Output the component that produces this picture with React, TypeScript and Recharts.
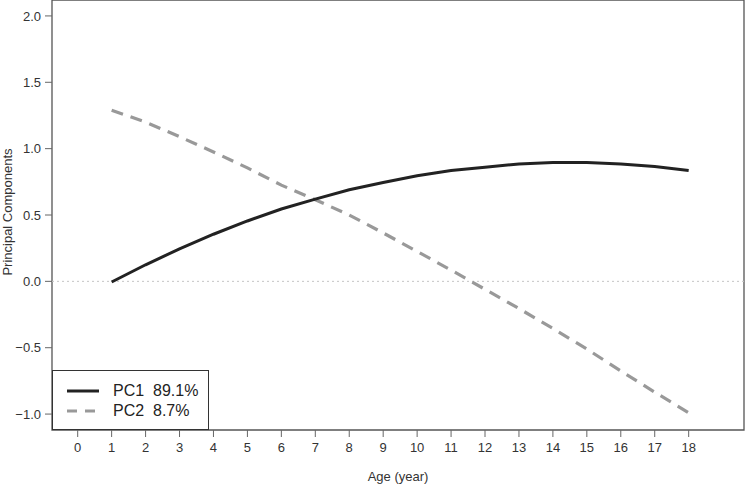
import React from 'react';
import { LineChart, Line, XAxis, YAxis, ReferenceLine, ReferenceArea, Label } from 'recharts';

// Ages along the x axis
const ages = [1, 2, 3, 4, 5, 6, 7, 8, 9, 10, 11, 12, 13, 14, 15, 16, 17, 18];

// Principal component curves
const pc1 = [-0.005, 0.125, 0.245, 0.355, 0.455, 0.545, 0.62, 0.69, 0.745, 0.795, 0.835, 0.86, 0.885, 0.895, 0.895, 0.885, 0.865, 0.835];
const pc2 = [1.29, 1.2, 1.09, 0.975, 0.855, 0.725, 0.615, 0.5, 0.365, 0.225, 0.085, -0.06, -0.205, -0.355, -0.51, -0.675, -0.835, -0.99];

const xTicks = [0, 1, 2, 3, 4, 5, 6, 7, 8, 9, 10, 11, 12, 13, 14, 15, 16, 17, 18];
const yTicks = [-1, -0.5, 0, 0.5, 1, 1.5, 2];

const legendItems = [
    { name: 'PC1', share: '89.1%', color: '#222222', dash: undefined as string | undefined },
    { name: 'PC2', share: '8.7%', color: '#999999', dash: '10 8' },
];

const X_DOMAIN: [number, number] = [-0.757, 19.63];
const Y_DOMAIN: [number, number] = [-1.12, 2.12];

const FONT = '"Liberation Sans", Arial, Helvetica, sans-serif';

const data = ages.map((age, i) => ({ age, pc1: pc1[i], pc2: pc2[i] }));

const fmt = (v: number) => (v < 0 ? '\u2212' + Math.abs(v).toFixed(1) : v.toFixed(1));

const App: React.FC = () => {
    return (
        <div style={{ position: 'absolute', left: 0, top: 0, width: 749, height: 484, background: '#fff', fontFamily: FONT }}>
            <LineChart width={749} height={484} data={data} margin={{ top: 0, right: 5, bottom: 0, left: 0 }}>
                <XAxis
                    dataKey="age"
                    type="number"
                    domain={X_DOMAIN}
                    ticks={xTicks}
                    allowDataOverflow
                    axisLine={false}
                    tickLine={{ stroke: '#666', strokeWidth: 1 }}
                    tickSize={7}
                    tickMargin={6}
                    height={54}
                    tick={{ fill: '#333', fontSize: 13, fontFamily: FONT }}
                >
                    <Label
                        content={() => (
                            <text x={398} y={481} textAnchor="middle" fill="#333" fontSize={13} fontFamily={FONT}>
                                Age (year)
                            </text>
                        )}
                    />
                </XAxis>
                <YAxis
                    type="number"
                    domain={Y_DOMAIN}
                    ticks={yTicks}
                    allowDataOverflow
                    width={52}
                    axisLine={false}
                    tickLine={{ stroke: '#666', strokeWidth: 1 }}
                    tickSize={7}
                    tickMargin={4}
                    tickFormatter={fmt}
                    tick={{ fill: '#333', fontSize: 13, fontFamily: FONT }}
                >
                    <Label
                        content={() => (
                            <text x={12} y={212} transform="rotate(-90 12 212)" textAnchor="middle" fill="#333" fontSize={13} fontFamily={FONT}>
                                Principal Components
                            </text>
                        )}
                    />
                </YAxis>
                <ReferenceLine y={0} stroke="#c4c4c4" strokeWidth={1} strokeDasharray="2 3" />
                <ReferenceArea x1={X_DOMAIN[0]} x2={X_DOMAIN[1]} y1={Y_DOMAIN[0]} y2={Y_DOMAIN[1]} fill="none" stroke="#555" strokeWidth={1.3} />
                <Line dataKey="pc2" type="linear" stroke="#999999" strokeWidth={3.2} strokeDasharray="12 8" dot={false} isAnimationActive={false} />
                <Line dataKey="pc1" type="linear" stroke="#222222" strokeWidth={3} dot={false} isAnimationActive={false} />
            </LineChart>

            {/* Legend box in the bottom-left corner of the plot */}
            <div
                style={{
                    position: 'absolute',
                    left: 52,
                    top: 370,
                    width: 157,
                    height: 60,
                    border: '1.3px solid #333',
                    boxSizing: 'border-box',
                    background: '#fff',
                }}
            >
                {legendItems.map((item, i) => (
                    <div key={item.name} style={{ position: 'absolute', left: 0, top: 10 + i * 20, height: 20, display: 'flex', alignItems: 'center' }}>
                        <svg width={60} height={20}>
                            <line x1={14} x2={46} y1={10} y2={10} stroke={item.color} strokeWidth={3} strokeDasharray={item.dash} />
                        </svg>
                        <span style={{ fontSize: 16, color: '#222', whiteSpace: 'pre' }}>
                            {item.name}  {item.share}
                        </span>
                    </div>
                ))}
            </div>
        </div>
    );
};

export default App;
